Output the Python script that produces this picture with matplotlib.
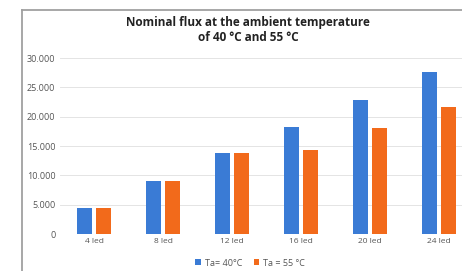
import numpy as np
from matplotlib import pyplot as plt
from matplotlib.lines import Line2D

categories = ['4 led', '8 led', '12 led', '16 led', '20 led', '24 led']
flux_40 = [4400, 9100, 13800, 18200, 22900, 27600]
flux_55 = [4400, 9100, 13800, 14400, 18000, 21600]
y_ticks = [0, 5000, 10000, 15000, 20000, 25000, 30000]
y_labels = ['0', '5.000', '10.000', '15.000', '20.000', '25.000', '30.000']

blue = '#3a7bd5'
orange = '#f26a1b'


def main():
    plt.rcParams['font.family'] = ['Open Sans', 'DejaVu Sans']
    fig = plt.figure(figsize=(4.62, 2.71), dpi=100)
    ax = fig.add_axes([59.5 / 462, 37 / 271, 414 / 462, 176 / 271])

    x = np.arange(len(categories))
    w = 15 / 69
    off = 9.5 / 69
    ax.bar(x - off, flux_40, w, color=blue, label='Ta= 40°C', zorder=3)
    ax.bar(x + off, flux_55, w, color=orange, label='Ta = 55 °C', zorder=3)

    ax.set_xlim(-0.5, len(categories) - 0.5)
    ax.set_ylim(0, 30000)
    ax.set_xticks(x)
    ax.set_xticklabels(categories, fontsize=6, color='#555555')
    ax.set_yticks(y_ticks)
    ax.set_yticklabels(y_labels, fontsize=6.5, color='#555555')
    ax.tick_params(length=0, pad=3)
    ax.grid(axis='y', color='#e4e4e4', linewidth=0.7, zorder=0)
    for s in ax.spines.values():
        s.set_visible(False)

    # outer chart frame (cropped at right and bottom)
    fig.add_artist(Line2D([22 / 462, 22 / 462], [0, 1 - 10 / 271],
                          color='#a0a0a0', linewidth=1.3))
    fig.add_artist(Line2D([22 / 462, 1], [1 - 10 / 271, 1 - 10 / 271],
                          color='#a0a0a0', linewidth=1.3))

    fig.text(248 / 462, 1 - 30 / 271,
             'Nominal flux at the ambient temperature\nof 40 °C and 55 °C',
             ha='center', va='center', fontsize=8.5, fontweight='bold',
             linespacing=1.15, color='#222222')

    fig.legend(loc='center', bbox_to_anchor=(250 / 462, 1 - 263 / 271),
               ncol=2, frameon=False, fontsize=6.5, handlelength=0.6,
               handleheight=0.6, handletextpad=0.4, columnspacing=1.3,
               labelcolor='#555555')

    fig.savefig('out.png', dpi=100)


if __name__ == '__main__':
    main()
